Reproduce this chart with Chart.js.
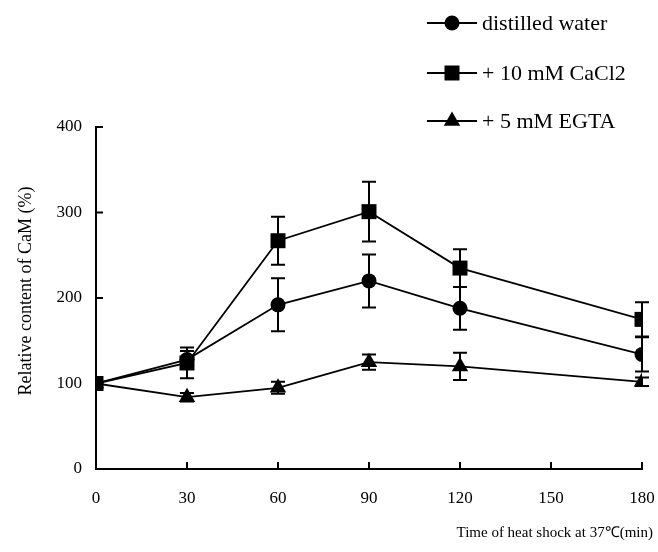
<!DOCTYPE html>
<html>
<head>
<meta charset="utf-8">
<script src="https://cdn.jsdelivr.net/npm/chart.js@4.4.1/dist/chart.umd.min.js"></script>
<style>
  html, body { margin: 0; padding: 0; background: #fff; }
  #wrap { width: 658px; height: 552px; }
</style>
</head>
<body>
<div id="wrap"><canvas id="chart" width="658" height="552"></canvas></div>
<script>
// time points (min) and tick values
const times = [0, 30, 60, 90, 120, 180];
const xTickValues = [0, 30, 60, 90, 120, 150, 180];
const yTickValues = [0, 100, 200, 300, 400];

// relative CaM content (%), with error bars
const waterMean = [100, 128, 192, 220, 188, 134];
const waterErr  = [0, 10, 31, 31, 25, 20];
const cacl2Mean = [100, 124, 267, 301, 235, 175];
const cacl2Err  = [0, 18, 28, 35, 22, 20];
const egtaMean  = [100, 84, 95, 125, 120, 102];
const egtaErr   = [0, 5, 7, 9, 16, 5];

const seriesLabels = ['distilled water', '+ 10 mM CaCl2', '+ 5 mM EGTA'];
const xTitle = 'Time of heat shock at 37\u2103(min)';
const yTitle = 'Relative content of CaM (%)';

const FONT = "'Liberation Serif', 'Times New Roman', serif";

const toPoints = (ys, errs) => times.map((t, i) => ({ x: t, y: ys[i], err: errs[i] }));

const mkSet = (label, ys, errs, style, radius, order) => ({
    label: label,
    data: toPoints(ys, errs),
    borderColor: '#000',
    backgroundColor: '#000',
    borderWidth: 1.8,
    pointStyle: style,
    pointRadius: radius,
    pointHoverRadius: radius,
    pointBorderWidth: 0,
    tension: 0,
    order: order
});

// error bars drawn under the markers
const errorBars = {
    id: 'errorBars',
    beforeDatasetsDraw(chart) {
        const ctx = chart.ctx;
        const xs = chart.scales.x, ys = chart.scales.y;
        ctx.save();
        ctx.strokeStyle = '#000';
        ctx.lineWidth = 2;
        chart.data.datasets.forEach(ds => {
            ds.data.forEach(p => {
                if (!p.err) return;
                const x = xs.getPixelForValue(p.x);
                const top = ys.getPixelForValue(p.y + p.err);
                const bot = ys.getPixelForValue(p.y - p.err);
                ctx.beginPath();
                ctx.moveTo(x, top); ctx.lineTo(x, bot);
                ctx.moveTo(x - 7, top); ctx.lineTo(x + 7, top);
                ctx.moveTo(x - 7, bot); ctx.lineTo(x + 7, bot);
                ctx.stroke();
            });
        });
        ctx.restore();
    }
};

// inward tick marks, axis titles and the legend
const decorations = {
    id: 'decorations',
    afterDraw(chart) {
        const ctx = chart.ctx;
        const xs = chart.scales.x, ys = chart.scales.y;
        const a = chart.chartArea;
        ctx.save();
        ctx.strokeStyle = '#000';
        ctx.lineWidth = 2;
        ctx.beginPath();
        xTickValues.forEach(v => {
            const x = xs.getPixelForValue(v);
            ctx.moveTo(x, a.bottom); ctx.lineTo(x, a.bottom - 7);
        });
        yTickValues.forEach(v => {
            const y = ys.getPixelForValue(v);
            ctx.moveTo(a.left, y); ctx.lineTo(a.left + 7, y);
        });
        ctx.stroke();

        ctx.fillStyle = '#000';
        ctx.font = '15px ' + FONT;
        ctx.textAlign = 'right';
        ctx.textBaseline = 'middle';
        ctx.fillText(xTitle, 653, 533);

        ctx.save();
        ctx.translate(26, 291);
        ctx.rotate(-Math.PI / 2);
        ctx.textAlign = 'center';
        ctx.font = '18px ' + FONT;
        ctx.fillText(yTitle, 0, 0);
        ctx.restore();

        // legend
        ctx.font = '22px ' + FONT;
        ctx.textAlign = 'left';
        const rowsY = [23, 73, 121];
        chart.data.datasets.forEach((ds, i) => {
            const y = rowsY[i];
            ctx.lineWidth = 1.8;
            ctx.beginPath();
            ctx.moveTo(427, y); ctx.lineTo(477, y);
            ctx.stroke();
            Chart.helpers.drawPoint(ctx, {
                pointStyle: ds.pointStyle, radius: ds.pointRadius, rotation: 0, borderWidth: 0
            }, 452, y);
            ctx.fillText(ds.label, 482, y + 1);
        });
        ctx.restore();
    }
};

new Chart(document.getElementById('chart'), {
    type: 'line',
    data: {
        datasets: [
            mkSet(seriesLabels[0], waterMean, waterErr, 'circle', 7.5, 1),
            mkSet(seriesLabels[1], cacl2Mean, cacl2Err, 'rect', 10.6, 0),
            mkSet(seriesLabels[2], egtaMean, egtaErr, 'triangle', 9.5, 2)
        ]
    },
    options: {
        responsive: false,
        animation: false,
        layout: { padding: { top: 127, right: 16, left: 0, bottom: 0 } },
        plugins: { legend: { display: false }, tooltip: { enabled: false } },
        scales: {
            x: {
                type: 'linear', min: 0, max: 180,
                grid: { display: false },
                border: { display: true, color: '#000', width: 2 },
                ticks: { stepSize: 30, color: '#000', font: { family: FONT, size: 17 }, padding: 11, maxRotation: 0 },
                afterFit: s => { s.height = 83; s.paddingLeft = 0; s.paddingRight = 0; }
            },
            y: {
                min: 0, max: 400,
                grid: { display: false },
                border: { display: true, color: '#000', width: 2 },
                ticks: { stepSize: 100, color: '#000', font: { family: FONT, size: 17 }, padding: 6 },
                afterFit: s => { s.width = 96; s.paddingTop = 0; s.paddingBottom = 0; }
            }
        }
    },
    plugins: [errorBars, decorations]
});
</script>
</body>
</html>
